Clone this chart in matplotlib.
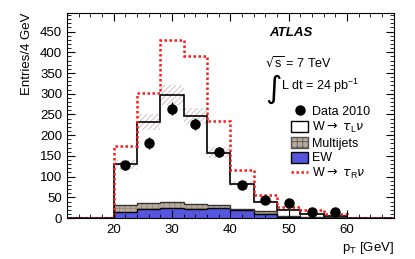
import numpy as np
import matplotlib
matplotlib.use("Agg")
import matplotlib.pyplot as plt
from matplotlib.ticker import MultipleLocator
from matplotlib.patches import Patch
from matplotlib.lines import Line2D

plt.rcParams['font.family'] = ['Liberation Sans', 'DejaVu Sans']
plt.rcParams['hatch.linewidth'] = 0.6

# histogram bins (4 GeV)
edges = np.arange(12, 69, 4)
ew = [0, 0, 15, 21, 25, 23, 24, 19, 11, 2, 1, 1, 0, 0]
multijets = [0, 0, 16, 16, 14, 10, 7, 3, 5, 2, 1, 1, 0, 0]
sig_total = [0, 0, 130, 232, 297, 247, 158, 83, 40, 20, 9, 4, 0, 0]
tauR_total = [0, 0, 175, 303, 430, 390, 234, 117, 55, 27, 19, 10, 0, 0]
data_x = [22, 26, 30, 34, 38, 42, 46, 50, 54, 58]
data_y = [127, 181, 264, 227, 160, 81, 43, 36, 15, 15]

ew = np.array(ew)
bkg = ew + np.array(multijets)
sig_total = np.array(sig_total)

fig = plt.figure(figsize=(4.15, 2.59), dpi=100)
ax = fig.add_axes([0.1614, 0.158, 0.7876, 0.792])

# W -> tau_L nu (white) with uncertainty band
ax.stairs(sig_total * 1.08, edges, baseline=sig_total * 0.92, fill=True,
          facecolor='none', edgecolor='#c9b7bb', lw=0, hatch='//////')
# multijets
ax.stairs(bkg, edges, baseline=ew, fill=True, facecolor='#b9ab9c',
          edgecolor='#948474', lw=0, hatch='+++')
# EW
ax.stairs(ew, edges, fill=True, facecolor='#5555dd', lw=0)
ax.stairs(ew, edges, color='black', lw=1.0)
ax.stairs(bkg, edges, color='#333333', lw=1.0)
ax.stairs(sig_total, edges, color='black', lw=1.2)
ax.stairs(tauR_total, edges, color='#ff1a1a', lw=1.8, ls=(0, (1, 1)))

ax.errorbar(data_x, data_y, yerr=np.sqrt(data_y), fmt='o', color='black',
            ms=6.5, elinewidth=1.0, capsize=0)

ax.set_xlim(12, 68)
ax.set_ylim(0, 495)
ax.xaxis.set_major_locator(MultipleLocator(10))
ax.xaxis.set_minor_locator(MultipleLocator(2))
ax.yaxis.set_major_locator(MultipleLocator(50))
ax.yaxis.set_minor_locator(MultipleLocator(10))
ax.tick_params(which='both', direction='in', top=True, right=True, labelsize=9.5)
ax.tick_params(which='major', length=6)
ax.tick_params(which='minor', length=3)
ax.tick_params(axis='x', pad=4)
for s in ax.spines.values():
    s.set_linewidth(0.8)

ax.set_ylabel('Entries/4 GeV', fontsize=9.5, loc='top', labelpad=5)
ax.set_xlabel(r'p$_{\mathregular{T}}$ [GeV]', fontsize=9.5, loc='right', labelpad=3)

ax.text(0.62, 0.90, 'ATLAS', transform=ax.transAxes, fontsize=9.5,
        fontweight='bold', fontstyle='italic', va='center')
ax.text(0.605, 0.756, r'$\sqrt{\mathregular{s}}$ = 7 TeV', transform=ax.transAxes,
        fontsize=9, va='center')
ax.text(0.607, 0.63, r'$\int$', transform=ax.transAxes, fontsize=16, va='center')
ax.text(0.655, 0.645, r'L dt = 24 pb$^{\mathregular{-1}}$', transform=ax.transAxes,
        fontsize=9, va='center')

handles = [
    Line2D([], [], marker='o', color='black', ls='none', ms=6.5),
    Patch(facecolor='white', edgecolor='black', lw=1.0),
    Patch(facecolor='#b9ab9c', edgecolor='#555555', lw=1.0, hatch='+++'),
    Patch(facecolor='#5555dd', edgecolor='black', lw=1.0),
    Line2D([], [], color='#ff1a1a', lw=1.8, ls=(0, (1, 1))),
]
labels = ['Data 2010', r'W$\rightarrow$ $\tau_{\mathregular{L}}\nu$', 'Multijets', 'EW',
          r'W$\rightarrow$ $\tau_{\mathregular{R}}\nu$']
ax.legend(handles, labels, loc='upper left', bbox_to_anchor=(0.67, 0.575),
          frameon=False, fontsize=9, handlelength=1.4, handleheight=1.0,
          handletextpad=0.3, labelspacing=0.15, borderaxespad=0)

fig.savefig('out.png', dpi=100)
